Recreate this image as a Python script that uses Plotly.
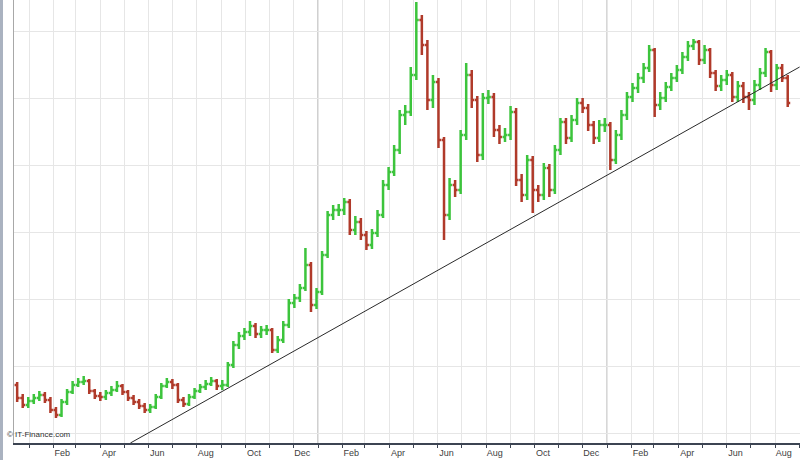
import plotly.graph_objects as go
import pandas as pd

# Weekly bars (week ending dates)
week_end = pd.date_range("2004-12-10", periods=141, freq="7D")

close = [650, 520, 450, 490, 520, 550, 500, 400, 350, 480,
         580, 650, 680, 690, 590, 540, 530, 570, 600, 640,
         580, 520, 480, 440, 400, 430, 530, 640, 680, 650,
         500, 460, 530, 590, 630, 660, 690, 640, 650, 850,
         1050, 1140, 1180, 1240, 1160, 1200, 1200, 1000, 1100, 1250,
         1470, 1520, 1620, 1850, 1450, 1580, 1950, 2350, 2400, 2400,
         2480, 2200, 2280, 2150, 2050, 2170, 2350, 2650, 2780, 3000,
         3350, 3380, 3750, 4300, 4050, 3500, 3680, 3100, 2350, 2650,
         2600, 3150, 3750, 3500, 2950, 3520, 3530, 3200, 3130, 3150,
         3380, 2700, 2550, 2900, 2600, 2550, 2820, 2600, 3000, 3280,
         3120, 3300, 3470, 3420, 3250, 3120, 3250, 3250, 2900, 3150,
         3350, 3530, 3620, 3720, 3820, 4000, 3450, 3520, 3630, 3720,
         3800, 3930, 4040, 4080, 3900, 4000, 3770, 3640, 3700, 3750,
         3530, 3640, 3530, 3500, 3650, 3770, 3980, 3650, 3820, 3720,
         3470]

high = [730, 680, 560, 530, 560, 590, 580, 530, 430, 510,
        610, 690, 720, 740, 710, 610, 580, 600, 640, 690,
        660, 600, 550, 510, 470, 460, 560, 670, 720, 710,
        670, 530, 560, 620, 660, 700, 730, 710, 700, 880,
        1090, 1180, 1220, 1290, 1270, 1240, 1250, 1220, 1140, 1290,
        1510, 1560, 1660, 2020, 1880, 1620, 1990, 2390, 2450, 2460,
        2520, 2510, 2340, 2320, 2190, 2210, 2400, 2700, 2830, 3050,
        3400, 3450, 3830, 4480, 4350, 4100, 3750, 3720, 3130, 2720,
        2700, 3200, 3870, 3800, 3540, 3570, 3600, 3570, 3250, 3220,
        3440, 3420, 2760, 2950, 2940, 2650, 2870, 2860, 3050, 3320,
        3320, 3350, 3520, 3520, 3460, 3290, 3300, 3320, 3280, 3200,
        3400, 3580, 3670, 3770, 3870, 4050, 4020, 3580, 3680, 3770,
        3850, 3980, 4090, 4110, 4100, 4050, 4020, 3800, 3750, 3800,
        3780, 3690, 3680, 3580, 3700, 3820, 4020, 4000, 3860, 3860,
        3750]

low = [600, 480, 420, 420, 460, 490, 470, 370, 320, 330,
       450, 560, 630, 650, 560, 510, 490, 500, 540, 580,
       550, 490, 450, 410, 370, 370, 410, 510, 620, 610,
       470, 430, 440, 510, 570, 600, 640, 600, 600, 630,
       820, 1010, 1100, 1140, 1120, 1120, 1150, 970, 970, 1070,
       1220, 1420, 1480, 1590, 1380, 1410, 1550, 1920, 2300, 2340,
       2350, 2150, 2150, 2100, 2000, 2010, 2130, 2320, 2600, 2740,
       2960, 3250, 3340, 3700, 3950, 3400, 3420, 3020, 2100, 2300,
       2530, 2560, 3100, 3420, 2880, 2900, 3460, 3130, 3060, 3080,
       3100, 2640, 2480, 2500, 2370, 2480, 2500, 2530, 2560, 2950,
       3060, 3080, 3250, 3370, 3190, 3060, 3080, 3180, 2800, 2860,
       3100, 3300, 3480, 3570, 3670, 3780, 3330, 3400, 3480, 3590,
       3680, 3760, 3890, 4000, 3850, 3860, 3720, 3590, 3590, 3650,
       3480, 3480, 3470, 3400, 3450, 3600, 3730, 3580, 3600, 3680,
       3430]

first_open = 700

# Trend line support
trend_dates = ["2005-05-09", "2007-09-01"]
trend_values = [70, 3830]

# Axis decorations
year_starts = ["2006-01-01", "2007-01-01"]
label_dates = ["2005-02-12", "2005-04-12", "2005-06-12", "2005-08-12", "2005-10-12", "2005-12-12",
               "2006-02-12", "2006-04-12", "2006-06-12", "2006-08-12", "2006-10-12", "2006-12-12",
               "2007-02-12", "2007-04-12", "2007-06-12", "2007-08-12"]
label_text = ["Feb", "Apr", "Jun", "Aug", "Oct", "Dec",
              "Feb", "Apr", "Jun", "Aug", "Oct", "Dec",
              "Feb", "Apr", "Jun", "Aug"]

open_ = [first_open] + close[:-1]

fig = go.Figure()
fig.add_trace(go.Ohlc(
    x=week_end, open=open_, high=high, low=low, close=close,
    increasing=dict(line=dict(color="#3cc43c", width=2.5)),
    decreasing=dict(line=dict(color="#b03a2a", width=2.5)),
    tickwidth=0.45, showlegend=False, hoverinfo="skip"))

fig.add_trace(go.Scatter(
    x=trend_dates, y=trend_values, mode="lines",
    line=dict(color="#2a2a2a", width=1), showlegend=False, hoverinfo="skip"))

shapes = [dict(type="line", xref="x", yref="paper", x0=d, x1=d, y0=0, y1=1,
               line=dict(color="#8a8a8a", width=1), layer="between")
          for d in year_starts]
shapes.append(dict(type="rect", xref="paper", yref="paper",
                   x0=-14 / 786, x1=-11 / 786, y0=-17 / 443, y1=1,
                   fillcolor="#aab2c0", line=dict(width=0)))

fig.update_layout(
    width=800, height=460,
    margin=dict(l=14, r=0, t=0, b=17),
    paper_bgcolor="white", plot_bgcolor="white",
    font=dict(family="Liberation Sans, Arial, sans-serif", size=9, color="#404040"),
    xaxis=dict(
        type="date",
        range=["2004-12-13", "2007-09-01 12:00"],
        rangeslider=dict(visible=False),
        tickmode="array", tickvals=label_dates, ticktext=label_text,
        ticks="", showgrid=False, zeroline=False,
        showline=True, linecolor="#3c4452", linewidth=2,
        tickfont=dict(size=9, color="#404040"),
        minor=dict(dtick="M1", tick0="2004-12-01", showgrid=True,
                   gridcolor="#e6e6e6", gridwidth=1,
                   ticks="outside", ticklen=3, tickcolor="#3c4452"),
    ),
    yaxis=dict(
        range=[70, 4500],
        tick0=170, dtick=670,
        showticklabels=False, ticks="",
        showgrid=True, gridcolor="#e6e6e6", gridwidth=1,
        zeroline=False,
        showline=True, linecolor="#a8a8a8", linewidth=1,
    ),
    shapes=shapes,
    annotations=[dict(text="© IT-Finance.com", xref="paper", yref="paper",
                      x=-9 / 786, y=2 / 443, xanchor="left", yanchor="bottom",
                      showarrow=False, font=dict(size=8, color="#303030"))],
)

fig.write_html("out.html", config={"displayModeBar": False},
               post_script="document.body.style.margin='0';document.body.style.padding='0';")
